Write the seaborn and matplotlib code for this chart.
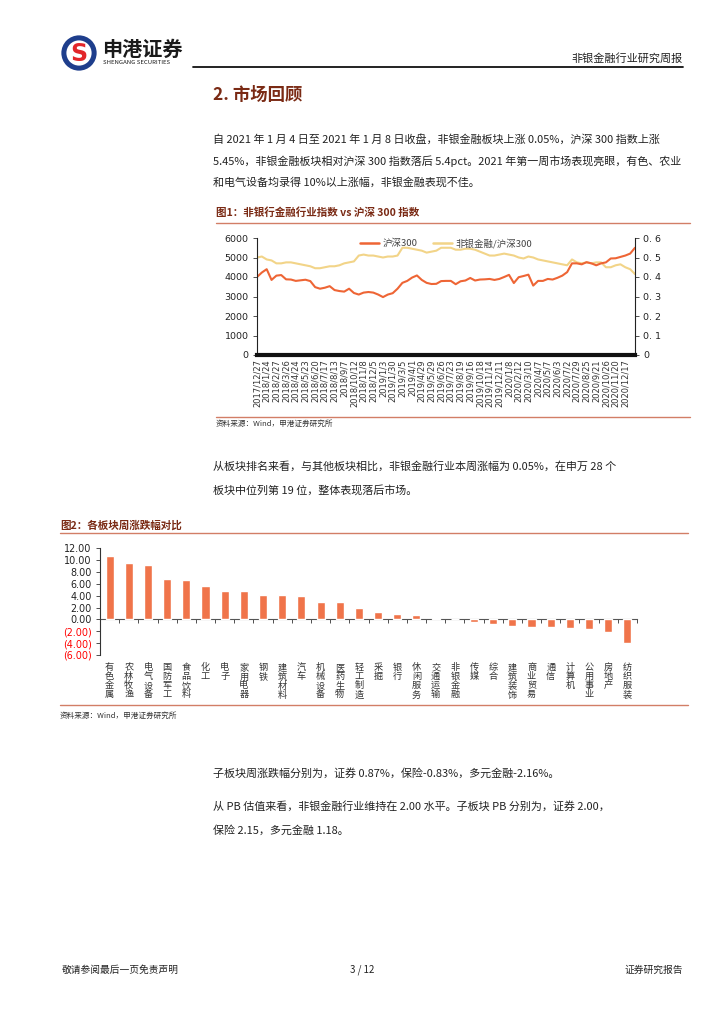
import matplotlib
matplotlib.use('Agg')
import matplotlib.pyplot as plt
import seaborn as sns
import pandas as pd
import numpy as np
from matplotlib.patches import Circle
from matplotlib.lines import Line2D

sns.set_theme(style='white')
plt.rcParams['font.family'] = ['Noto Sans CJK SC', 'DejaVu Sans']
plt.rcParams['axes.unicode_minus'] = False

# ---------------- data ----------------
dates = ['2017/12/27', '2018/1/10', '2018/1/24', '2018/2/8', '2018/2/27', '2018/3/13', '2018/3/26',
         '2018/4/10', '2018/4/24', '2018/5/9', '2018/5/23', '2018/6/6', '2018/6/20', '2018/7/4',
         '2018/7/17', '2018/7/31', '2018/8/13', '2018/8/24', '2018/9/7', '2018/9/21', '2018/10/12',
         '2018/10/25', '2018/11/8', '2018/11/21', '2018/12/5', '2018/12/19', '2019/1/3', '2019/1/16',
         '2019/1/30', '2019/2/20', '2019/3/5', '2019/3/19', '2019/4/1', '2019/4/16', '2019/4/29',
         '2019/5/15', '2019/5/29', '2019/6/12', '2019/6/26', '2019/7/10', '2019/7/23', '2019/8/6',
         '2019/8/19', '2019/9/2', '2019/9/16', '2019/9/30', '2019/10/18', '2019/10/31', '2019/11/14',
         '2019/11/27', '2019/12/11', '2019/12/25', '2020/1/8', '2020/2/3', '2020/2/12', '2020/2/26',
         '2020/3/10', '2020/3/24', '2020/4/7', '2020/4/22', '2020/5/7', '2020/5/20', '2020/6/3',
         '2020/6/17', '2020/7/2', '2020/7/15', '2020/7/29', '2020/8/11', '2020/8/25', '2020/9/8',
         '2020/9/21', '2020/10/9', '2020/10/26', '2020/11/6', '2020/11/20', '2020/12/3', '2020/12/17',
         '2020/12/30', '2021/1/8']
hs300 = [4000, 4230, 4400, 3850, 4070, 4100, 3880, 3870, 3800, 3830, 3860, 3790, 3480, 3400,
         3450, 3530, 3330, 3280, 3250, 3400, 3180, 3100, 3200, 3230, 3200, 3100, 2970, 3100,
         3170, 3400, 3700, 3800, 3970, 4080, 3850, 3700, 3640, 3650, 3790, 3800, 3800, 3630,
         3780, 3820, 3950, 3820, 3870, 3880, 3900, 3850, 3900, 4000, 4110, 3690, 3990, 4050,
         4120, 3560, 3800, 3800, 3900, 3870, 3960, 4070, 4250, 4700, 4700, 4650, 4760, 4700,
         4600, 4700, 4750, 4950, 4960, 5030, 5100, 5200, 5500]
ratio = [0.500, 0.505, 0.490, 0.485, 0.470, 0.470, 0.475, 0.475, 0.470, 0.465, 0.460, 0.455,
         0.445, 0.445, 0.450, 0.455, 0.455, 0.460, 0.470, 0.475, 0.480, 0.510, 0.515, 0.510,
         0.510, 0.505, 0.500, 0.505, 0.505, 0.510, 0.550, 0.550, 0.545, 0.540, 0.535, 0.525,
         0.530, 0.535, 0.550, 0.550, 0.550, 0.540, 0.540, 0.545, 0.545, 0.540, 0.530, 0.520,
         0.510, 0.510, 0.515, 0.520, 0.515, 0.510, 0.500, 0.495, 0.505, 0.500, 0.490, 0.485,
         0.480, 0.475, 0.470, 0.465, 0.460, 0.490, 0.475, 0.470, 0.475, 0.470, 0.475, 0.475,
         0.450, 0.450, 0.460, 0.465, 0.450, 0.440, 0.415]
tick_dates = dates[0:-1:2]
left_ticks = [0, 1000, 2000, 3000, 4000, 5000, 6000]
right_ticks = [0, 0.1, 0.2, 0.3, 0.4, 0.5, 0.6]
right_labels = ['0', '0. 1', '0. 2', '0. 3', '0. 4', '0. 5', '0. 6']

sectors = ['有色金属', '农林牧渔', '电气设备', '国防军工', '食品饮料', '化工', '电子', '家用电器',
           '钢铁', '建筑材料', '汽车', '机械设备', '医药生物', '轻工制造', '采掘', '银行',
           '休闲服务', '交通运输', '非银金融', '传媒', '综合', '建筑装饰', '商业贸易', '通信',
           '计算机', '公用事业', '房地产', '纺织服装']
changes = [10.7, 9.5, 9.1, 6.9, 6.65, 5.6, 4.8, 4.8, 4.05, 4.05, 3.9, 3.0, 2.95, 1.95,
           1.25, 0.9, 0.68, 0.23, 0.05, -0.45, -0.8, -1.18, -1.3, -1.35, -1.4, -1.58, -2.2, -4.0]
bar_ticks = [-6, -4, -2, 0, 2, 4, 6, 8, 10, 12]

# ---------------- page ----------------
W, H = 724, 1024
fig = plt.figure(figsize=(7.24, 10.24), dpi=100)
fig.patch.set_facecolor('white')

def T(x, y, s, **kw):
    kw.setdefault('va', 'center')
    fig.text(x / W, 1 - y / H, s, **kw)

def hline(x0, x1, y, color, lw):
    fig.add_artist(Line2D([x0 / W, x1 / W], [1 - y / H, 1 - y / H], color=color, lw=lw,
                          transform=fig.transFigure))

MAROON = '#7A2A14'
RULE = '#D27E66'
TXT = '#222222'

# logo
axl = fig.add_axes([61 / W, 1 - 71 / H, 36 / W, 36 / H])
axl.set_xlim(-1, 1); axl.set_ylim(-1, 1); axl.set_aspect('equal'); axl.axis('off')
axl.add_patch(Circle((0, 0), 0.98, fc='#1E3E8C', ec='none'))
axl.add_patch(Circle((0, 0), 0.70, fc='white', ec='none'))
axl.text(0, -0.05, 'S', color='#E2262A', fontsize=17, fontweight='bold', ha='center', va='center',
         family=['DejaVu Sans'])
T(102, 49, '申港证券', fontsize=14.5, fontweight='bold', color='#1A1A1A')
T(103, 63, 'SHENGANG SECURITIES', fontsize=4.3, color='#1A1A1A')
hline(193, 683, 67, '#111111', 1.3)
T(683, 58, '非银金融行业研究周报', fontsize=8, color=TXT, ha='right')

# section title
T(213, 95, '2. 市场回顾', fontsize=12.5, fontweight='bold', color=MAROON)

para_kw = dict(fontsize=7.95, color=TXT)
T(213, 140, '自 2021 年 1 月 4 日至 2021 年 1 月 8 日收盘，非银金融板块上涨 0.05%，沪深 300 指数上涨', **para_kw)
T(213, 161, '5.45%，非银金融板块相对沪深 300 指数落后 5.4pct。2021 年第一周市场表现亮眼，有色、农业', **para_kw)
T(213, 182, '和电气设备均录得 10%以上涨幅，非银金融表现不佳。', **para_kw)

# figure 1 caption
T(216, 213, '图1：非银行金融行业指数 vs 沪深 300 指数', fontsize=7.6, fontweight='bold', color=MAROON)
hline(216, 690, 223, RULE, 1.0)

# chart 1
df1 = pd.DataFrame({'date': dates, 'hs300': hs300, 'ratio': ratio})
ax1 = fig.add_axes([257 / W, 1 - 355 / H, 378 / W, 117 / H])
ax2 = ax1.twinx()
sns.lineplot(data=df1, x='date', y='ratio', sort=False, color='#F2D488', lw=1.5, ax=ax2)
sns.lineplot(data=df1, x='date', y='hs300', sort=False, color='#EE6535', lw=1.5, ax=ax1)
ax1.set_zorder(ax2.get_zorder() + 1)
ax1.patch.set_visible(False)
ax1.set_xlim(0, len(dates) - 1)
ax1.set_ylim(0, 6000)
ax2.set_ylim(0, 0.6)
ax1.set_xticks(range(0, len(dates) - 1, 2))
ax1.set_xticklabels(tick_dates, rotation=90, fontsize=6.0, color='#333333', family=['DejaVu Sans'])
ax1.set_yticks(left_ticks)
ax1.set_yticklabels([str(v) for v in left_ticks], fontsize=6.8, color=TXT, family=['DejaVu Sans'])
ax2.set_yticks(right_ticks)
ax2.set_yticklabels(right_labels, fontsize=6.8, color=TXT, family=['DejaVu Sans'])
for a in (ax1, ax2):
    a.set_xlabel(''); a.set_ylabel('')
    for s in a.spines.values():
        s.set_visible(False)
ax1.spines['left'].set_visible(True); ax1.spines['left'].set_color('#222222'); ax1.spines['left'].set_linewidth(0.8)
ax1.spines['bottom'].set_visible(True); ax1.spines['bottom'].set_color('#111111'); ax1.spines['bottom'].set_linewidth(3)
ax2.spines['right'].set_visible(True); ax2.spines['right'].set_color('#222222'); ax2.spines['right'].set_linewidth(0.8)
ax1.tick_params(axis='y', left=True, length=3, width=0.6, pad=3, color='#333333')
ax1.tick_params(axis='x', bottom=False, length=0, pad=3)
ax2.tick_params(axis='y', right=True, length=3, width=0.6, pad=3, color='#333333')
handles = [Line2D([], [], color='#EE6535', lw=1.8), Line2D([], [], color='#F2D488', lw=1.8)]
leg = ax1.legend(handles, ['沪深300', '非银金融/沪深300'], loc='upper center', bbox_to_anchor=(0.5, 1.07),
                 ncol=2, frameon=False, fontsize=6.8, handlelength=2.0, columnspacing=1.6,
                 handletextpad=0.4)
for t in leg.get_texts():
    t.set_color('#444444')

hline(216, 690, 417, RULE, 1.0)
T(216, 424, '资料来源：Wind，申港证券研究所', fontsize=5.5, color='#333333', style='italic')

T(213, 466, '从板块排名来看，与其他板块相比，非银金融行业本周涨幅为 0.05%，在申万 28 个', **para_kw)
T(213, 490, '板块中位列第 19 位，整体表现落后市场。', **para_kw)

# figure 2 caption
T(60, 525, '图2：各板块周涨跌幅对比', fontsize=7.6, fontweight='bold', color=MAROON)
hline(60, 688, 533, RULE, 1.0)

# chart 2
ax3 = fig.add_axes([100 / W, 1 - 655 / H, 537 / W, 106.7 / H])
sns.barplot(x=sectors, y=changes, color='#F0744A', saturation=1, width=0.42, ax=ax3)
ax3.set_ylim(-6, 12)
ax3.set_xlim(-0.5, len(sectors) - 0.5)
ax3.set_yticks(bar_ticks)
ylabs = [f'{v:.2f}' if v >= 0 else f'({abs(v):.2f})' for v in bar_ticks]
ax3.set_yticklabels(ylabs, fontsize=6.9, family=['DejaVu Sans'])
for lab, v in zip(ax3.get_yticklabels(), bar_ticks):
    lab.set_color('#FF0000' if v < 0 else TXT)
ax3.set_xticks(range(len(sectors)))
ax3.set_xticklabels(['\n'.join(s) for s in sectors], fontsize=6.6, linespacing=1.0, color='#333333',
                    va='top')
ax3.tick_params(axis='x', bottom=False, length=0, pad=6)
ax3.tick_params(axis='y', left=True, length=3, width=0.6, pad=3, color='#333333')
ax3.set_xlabel(''); ax3.set_ylabel('')
for s in ax3.spines.values():
    s.set_visible(False)
ax3.spines['left'].set_visible(True); ax3.spines['left'].set_color('#333333'); ax3.spines['left'].set_linewidth(0.8)
sec = ax3.secondary_xaxis(6 / 18)
sec.set_xticks(np.arange(-0.5, len(sectors), 1.0))
sec.set_xticklabels([])
sec.tick_params(direction='out', length=3, width=0.6, color='#333333')
sec.spines['bottom'].set_color('#555555')
sec.spines['bottom'].set_linewidth(0.8)

hline(60, 688, 705, RULE, 1.0)
T(60, 716, '资料来源：Wind，申港证券研究所', fontsize=5.5, color='#333333', style='italic')

T(213, 773, '子板块周涨跌幅分别为，证券 0.87%，保险-0.83%，多元金融-2.16%。', **para_kw)
T(213, 806, '从 PB 估值来看，非银金融行业维持在 2.00 水平。子板块 PB 分别为，证券 2.00，', **para_kw)
T(213, 830, '保险 2.15，多元金融 1.18。', **para_kw)

# footer
T(62, 970, '敬请参阅最后一页免责声明', fontsize=7, color=TXT)
T(362, 970, '3 / 12', fontsize=7, color=TXT, ha='center')
T(683, 970, '证券研究报告', fontsize=7, color=TXT, ha='right')

fig.savefig('out.png', dpi=100, facecolor='white')
